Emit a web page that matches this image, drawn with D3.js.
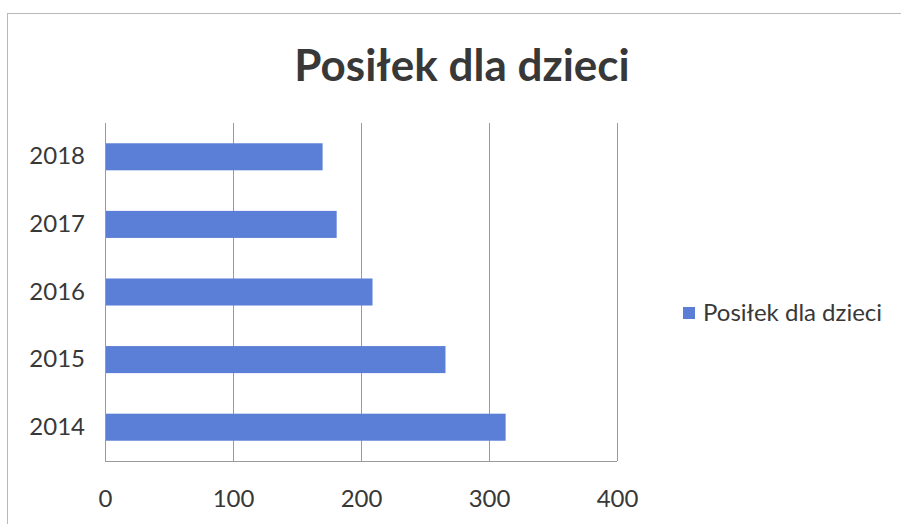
<!DOCTYPE html>
<meta charset="utf-8">
<script src="https://d3js.org/d3.v7.min.js"></script>
<style>
    body { margin: 0; background: #ffffff; }
    text { font-family: Lato, "Open Sans", sans-serif; fill: #383838; }
</style>
<div id="my_dataviz"></div>
<script>
    // data
    var years = ["2014", "2015", "2016", "2017", "2018"];
    var values = [313, 266, 209, 181, 170];
    var xTicks = [0, 100, 200, 300, 400];
    var seriesName = "Posiłek dla dzieci";

    var W = 901, H = 524;
    var margin = { top: 123, right: 284, bottom: 63, left: 105 },
        width = W - margin.left - margin.right,
        height = H - margin.top - margin.bottom;

    var root = d3.select("#my_dataviz")
        .append("svg")
        .attr("width", W)
        .attr("height", H);

    // chart border
    root.append("rect")
        .attr("x", 7.5).attr("y", 13.5)
        .attr("width", W).attr("height", H)
        .style("fill", "none")
        .style("stroke", "#b8b8b8");

    // title
    root.append("text")
        .attr("x", 462).attr("y", 81)
        .attr("text-anchor", "middle")
        .style("font-size", "44px")
        .style("font-weight", "bold")
        .text(seriesName);

    var svg = root.append("g")
        .attr("transform", "translate(" + margin.left + "," + margin.top + ")");

    var x = d3.scaleLinear().domain([0, 400]).range([0, width]);
    var y = d3.scaleBand().domain(years.slice().reverse()).range([0, height]).paddingInner(0.6).paddingOuter(0.3);

    // gridlines
    svg.append("g")
        .selectAll("line")
        .data(xTicks)
        .enter()
        .append("line")
        .attr("x1", function(d) { return Math.round(x(d)) + 0.5; })
        .attr("x2", function(d) { return Math.round(x(d)) + 0.5; })
        .attr("y1", 0)
        .attr("y2", height)
        .style("stroke", "#9a9a9a");

    // bottom line
    svg.append("line")
        .attr("x1", 0).attr("x2", width)
        .attr("y1", height + 0.5).attr("y2", height + 0.5)
        .style("stroke", "#9a9a9a");

    // bars
    svg.append("g")
        .selectAll("rect")
        .data(years)
        .enter()
        .append("rect")
        .attr("x", x(0) + 1)
        .attr("y", function(d) { return y(d); })
        .attr("width", function(d, i) { return x(values[i]) - x(0) - 1; })
        .attr("height", y.bandwidth())
        .style("fill", "#5b7fd6");

    // axes (text only)
    var xAxis = svg.append("g")
        .attr("transform", "translate(0," + height + ")")
        .call(d3.axisBottom(x).tickValues(xTicks).tickSize(0).tickPadding(29));
    xAxis.select(".domain").remove();
    xAxis.selectAll("text").style("font-size", "24px").style("font-family", "Lato, sans-serif").style("fill", "#383838");

    var yAxis = svg.append("g")
        .call(d3.axisLeft(y).tickSize(0).tickPadding(20));
    yAxis.select(".domain").remove();
    yAxis.selectAll("text").style("font-size", "24px").style("font-family", "Lato, sans-serif").style("fill", "#383838");

    // legend
    var legend = root.append("g").attr("transform", "translate(683,307)");
    legend.append("rect")
        .attr("width", 12).attr("height", 12)
        .style("fill", "#5b7fd6");
    legend.append("text")
        .attr("x", 20).attr("y", 6)
        .attr("dy", "0.35em")
        .style("font-size", "24px")
        .text(seriesName);
</script>
